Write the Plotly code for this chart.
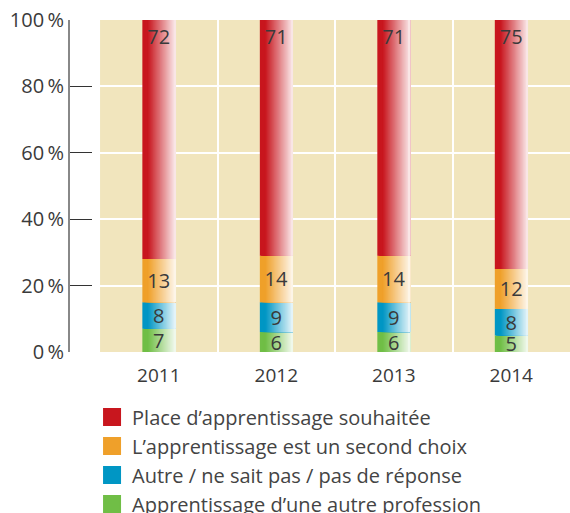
import plotly.graph_objects as go
import numpy as np

years = ["2011", "2012", "2013", "2014"]
green_vals = [7, 6, 6, 5]
blue_vals = [8, 9, 9, 8]
orange_vals = [13, 14, 14, 12]
red_vals = [72, 71, 71, 75]

names = {
    "red": "Place d\u2019apprentissage souhaitée",
    "orange": "L\u2019apprentissage est un second choix",
    "blue": "Autre / ne sait pas / pas de réponse",
    "green": "Apprentissage d\u2019une autre profession",
}
colors = {
    "red": (200, 22, 30),
    "orange": (239, 160, 42),
    "blue": (0, 150, 196),
    "green": (112, 190, 70),
}
tick_vals = [0, 20, 40, 60, 80, 100]
tick_text = ["0\u2009%", "20\u2009%", "40\u2009%", "60\u2009%", "80\u2009%", "100\u2009%"]

stack = [("green", green_vals), ("blue", blue_vals), ("orange", orange_vals), ("red", red_vals)]

W = 0.28
K = 28
FONT = "Open Sans"
TXT = "#3a3a3a"

fig = go.Figure()

base = np.zeros(len(years))
for key, vals in stack:
    vals = np.array(vals, dtype=float)
    c = np.array(colors[key], dtype=float)
    for i in range(K):
        t = i / K
        f = np.clip((t - 0.15) / 0.85, 0, 1) * 0.93
        rgb = c * (1 - f) + 255 * f
        col = "rgb(%d,%d,%d)" % tuple(rgb.round().astype(int))
        fig.add_trace(go.Bar(
            x=years, y=vals, base=base,
            offset=-W / 2 + t * W, width=W * (1 - t),
            marker=dict(color=col, line=dict(width=0)),
            showlegend=False, hoverinfo="skip",
        ))
    fig.add_trace(go.Bar(
        x=years, y=vals, base=base,
        offset=-W / 2, width=W,
        marker=dict(color="rgba(0,0,0,0)", line=dict(width=0)),
        text=[str(int(v)) for v in vals],
        textposition="inside",
        insidetextanchor="end" if key == "red" else "middle",
        constraintext="none",
        textangle=0,
        textfont=dict(family=FONT, size=20, color=TXT),
        showlegend=False, hoverinfo="skip",
    ))
    base = base + vals

for key in ["red", "orange", "blue", "green"]:
    col = "rgb(%d,%d,%d)" % colors[key]
    fig.add_trace(go.Scatter(
        x=[None], y=[None], mode="markers", name=names[key],
        legendgroup=key,
        marker=dict(symbol="square", size=16, color=col, line=dict(color=col, width=2)),
    ))

fig.update_layout(
    width=570, height=513,
    barmode="overlay",
    paper_bgcolor="white",
    plot_bgcolor="#F1E5BD",
    margin=dict(l=69, r=0, t=20, b=161, autoexpand=False),
    font=dict(family=FONT, color=TXT),
    legend=dict(
        x=0.046, y=-0.137, xanchor="left", yanchor="top",
        font=dict(family=FONT, size=20, color="#444444"),
        tracegroupgap=2, bgcolor="rgba(0,0,0,0)",
        traceorder="normal",
    ),
    xaxis=dict(
        domain=[0.062, 1],
        type="category",
        tickson="boundaries",
        showgrid=True, gridcolor="white", gridwidth=2,
        ticks="", showline=False, zeroline=False,
        tickfont=dict(family=FONT, size=19, color=TXT),
        ticklabelstandoff=10,
        range=[-0.5, 3.5],
    ),
    yaxis=dict(
        anchor="free", position=0,
        range=[0, 100],
        tickvals=tick_vals, ticktext=tick_text,
        ticks="inside", ticklen=22, tickwidth=1, tickcolor="#333333",
        showline=True, linecolor="#888888", linewidth=2,
        showgrid=True, gridcolor="white", gridwidth=2,
        zeroline=False,
        tickfont=dict(family=FONT, size=20, color=TXT),
    ),
)

fig.write_html("out.html")
